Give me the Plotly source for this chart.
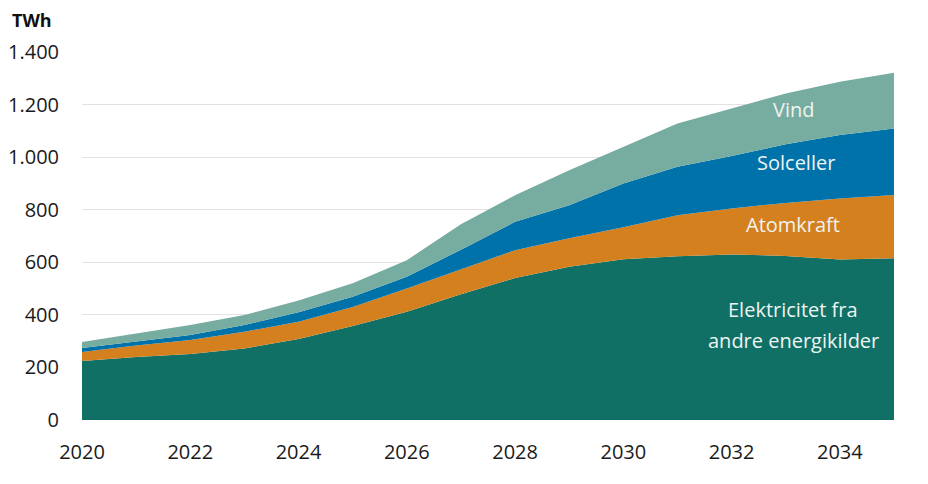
import plotly.graph_objects as go

years = list(range(2020, 2036))
elektricitet = [224, 240, 251, 272, 308, 358, 412, 478, 540, 583, 612, 623, 630, 624, 611, 615]
atomkraft = [35, 43, 53, 64, 66, 72, 88, 96, 106, 108, 121, 156, 175, 202, 232, 241]
solceller = [15, 15, 19, 25, 36, 39, 45, 74, 108, 126, 167, 184, 199, 223, 241, 253]
vind = [23, 30, 38, 38, 45, 51, 63, 97, 101, 133, 139, 165, 181, 193, 203, 212]

series = [
    ("Elektricitet fra andre energikilder", elektricitet, "#107065"),
    ("Atomkraft", atomkraft, "#d5801f"),
    ("Solceller", solceller, "#0072aa"),
    ("Vind", vind, "#77aca0"),
]

fig = go.Figure()
for name, vals, col in series:
    fig.add_trace(go.Scatter(
        x=years, y=vals, name=name, stackgroup="one", mode="lines",
        line=dict(width=0, color=col), fillcolor=col, hoverinfo="x+y+name",
    ))

font_family = "Open Sans, Noto Sans, sans-serif"

labels = [
    ("Vind", 2033.14, 1181),
    ("Solceller", 2033.19, 979),
    ("Atomkraft", 2033.14, 743),
    ("Elektricitet fra", 2033.14, 420),
    ("andre energikilder", 2033.14, 302),
]
for text, x, y in labels:
    fig.add_annotation(x=x, y=y, text=text, showarrow=False,
                       font=dict(family=font_family, size=20, color="#eef4f2"),
                       xanchor="center", yanchor="middle", align="center")

fig.add_annotation(xref="paper", yref="paper", x=-0.089, y=1.05, text="<b>TWh</b>",
                   showarrow=False, xanchor="left", yanchor="bottom",
                   font=dict(family=font_family, size=18, color="#111111"))

fig.update_layout(
    width=928, height=484,
    margin=dict(l=82, r=34, t=52, b=64, autoexpand=False),
    paper_bgcolor="white", plot_bgcolor="white",
    showlegend=False,
    separators=",.",
    font=dict(family=font_family, size=20, color="#1a1a1a"),
    xaxis=dict(range=[2020, 2035], tickvals=list(range(2020, 2036, 2)),
               showgrid=False, zeroline=False, showline=False, ticks="",
               ticklabelstandoff=18, automargin=False),
    yaxis=dict(range=[0, 1400], tickvals=list(range(0, 1401, 200)), tickformat=",d",
               showgrid=True, gridcolor="#e2e2e2", gridwidth=1, zeroline=False,
               showline=False, ticks="", ticklabelstandoff=22, automargin=False),
)

fig.write_html("out.html")
